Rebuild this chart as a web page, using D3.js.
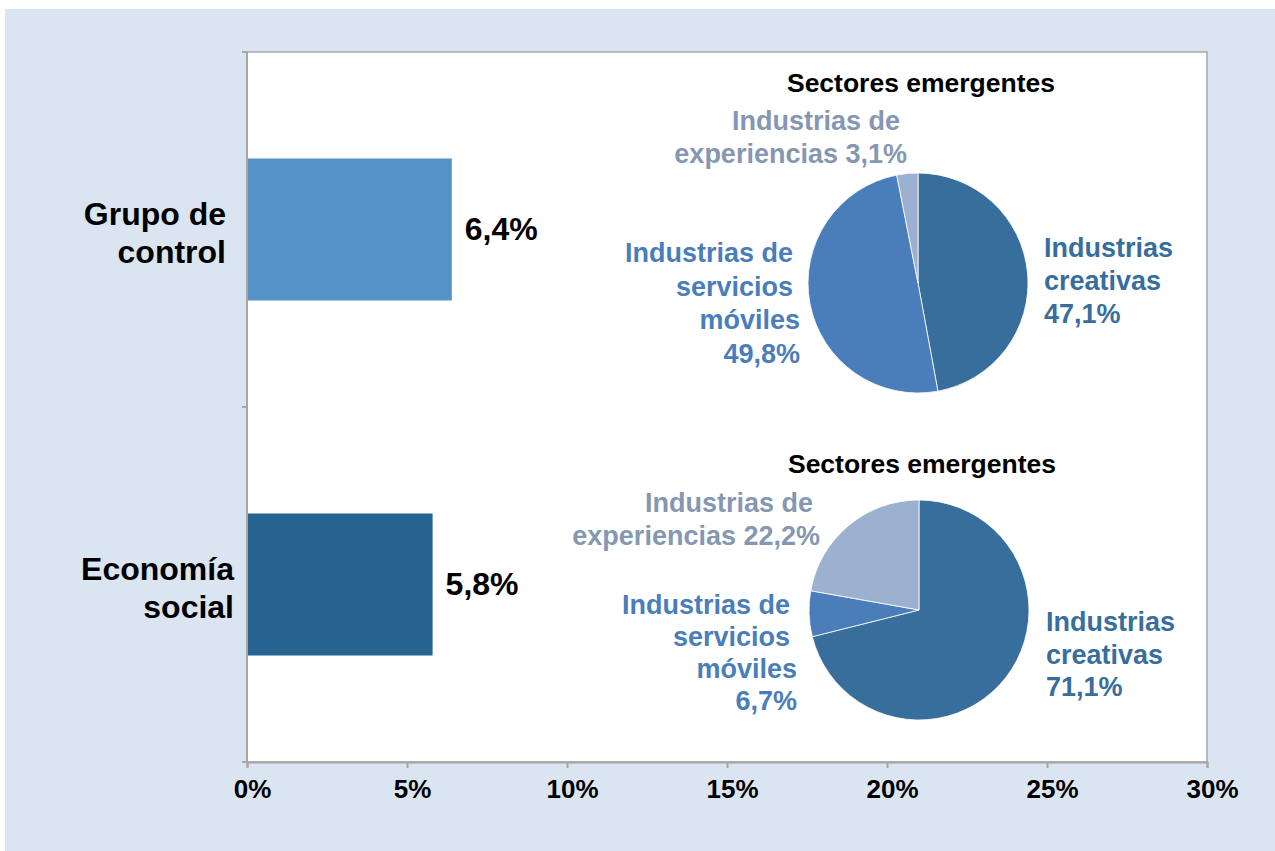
<!DOCTYPE html>
<html>
<head>
<meta charset="utf-8">
<script src="https://cdn.jsdelivr.net/npm/d3@7"></script>
<style>
  body { margin: 0; background: #ffffff; }
  text { font-family: "Liberation Sans", Arial, sans-serif; font-weight: bold; }
</style>
</head>
<body>
<svg id="chart" width="1275" height="851"></svg>
<script>

var categories = ['Grupo de control', 'Economía social'];
var categoryLines = [['Grupo de', 'control'], ['Economía', 'social']];
var barValues = [6.4, 5.8];
var barLabels = ['6,4%', '5,8%'];
var barColors = ['#5592c5', '#276391'];

var xTicks = [0, 5, 10, 15, 20, 25, 30];

var sectors = ['Industrias creativas', 'Industrias de servicios móviles', 'Industrias de experiencias'];
var pieControl = [47.1, 49.8, 3.1];
var pieSocial = [71.1, 6.7, 22.2];
var pieTitle = 'Sectores emergentes';
var sliceColors = ['#386e9c', '#4a7ebb', '#9cb1d0'];
var labelColors = ['#386e9c', '#4a7ebb', '#8597b1'];

var svg = d3.select('#chart');

svg.append('rect')
    .attr('x', 5).attr('y', 9)
    .attr('width', 1270).attr('height', 842)
    .attr('fill', '#dbe5f1');

var margin = { left: 247, right: 1207, top: 52, bottom: 762 };

var x = d3.scaleLinear()
    .domain([0, 30])
    .range([margin.left, margin.right]);

var y = d3.scaleBand()
    .domain(categories)
    .range([margin.top, margin.bottom])
    .paddingInner(0.6)
    .paddingOuter(0.3);

// plot area
svg.append('rect')
    .attr('x', margin.left).attr('y', margin.top)
    .attr('width', margin.right - margin.left)
    .attr('height', margin.bottom - margin.top)
    .attr('fill', '#ffffff')
    .attr('stroke', '#a6a6a6')
    .attr('stroke-width', 1.5);

// bars
svg.selectAll('.bar')
    .data(categories)
    .enter()
    .append('rect')
    .attr('class', 'bar')
    .attr('x', x(0))
    .attr('y', function(d) { return y(d); })
    .attr('width', function(d, i) { return x(barValues[i]) - x(0); })
    .attr('height', y.bandwidth())
    .attr('fill', function(d, i) { return barColors[i]; });

svg.selectAll('.barlabel')
    .data(categories)
    .enter()
    .append('text')
    .attr('class', 'barlabel')
    .attr('x', function(d, i) { return x(barValues[i]) + 13; })
    .attr('y', function(d) { return y(d) + y.bandwidth() / 2; })
    .attr('dy', '0.33em')
    .attr('font-size', 32)
    .attr('fill', '#000')
    .text(function(d, i) { return barLabels[i]; });

// x axis
var xAxis = d3.axisBottom(x)
    .tickValues(xTicks)
    .tickSize(6)
    .tickFormat(function(d) { return d + '%'; });

var gx = svg.append('g')
    .attr('transform', 'translate(0,' + margin.bottom + ')')
    .call(xAxis);

gx.select('.domain').attr('stroke', '#a6a6a6').attr('stroke-width', 2);
gx.selectAll('.tick line').attr('stroke', '#a6a6a6').attr('stroke-width', 2);
gx.selectAll('.tick text')
    .attr('y', 36)
    .attr('dy', 0)
    .attr('dx', 5)
    .attr('font-size', 26)
    .attr('font-family', '"Liberation Sans", Arial, sans-serif')
    .attr('fill', '#000');

// y axis line and ticks at category boundaries
var yEdges = [margin.top, (margin.top + margin.bottom) / 2, margin.bottom];

svg.append('line')
    .attr('x1', margin.left).attr('x2', margin.left)
    .attr('y1', margin.top).attr('y2', margin.bottom)
    .attr('stroke', '#a6a6a6')
    .attr('stroke-width', 2);

svg.selectAll('.ytick')
    .data(yEdges)
    .enter()
    .append('line')
    .attr('x1', margin.left - 5).attr('x2', margin.left)
    .attr('y1', function(d) { return d; })
    .attr('y2', function(d) { return d; })
    .attr('stroke', '#a6a6a6')
    .attr('stroke-width', 2);

// category labels
var catLabelX = [226, 234];

categories.forEach(function(c, i) {

    var t = svg.append('text')
        .attr('text-anchor', 'end')
        .attr('font-size', 32)
        .attr('fill', '#000')
        .attr('y', y(c) + y.bandwidth() / 2 - 5);

    categoryLines[i].forEach(function(line, j) {
        t.append('tspan')
            .attr('x', catLabelX[i])
            .attr('dy', j === 0 ? 0 : 38)
            .text(line);
    });
});

// pies
var pie = d3.pie()
    .sort(null)
    .value(function(d) { return d; });

var arc = d3.arc()
    .innerRadius(0)
    .outerRadius(110);

var fmt = function(v) { return String(v.toFixed(1)).replace('.', ',') + '%'; };

function drawPie(values, cx, cy, titleY, labels) {

    var g = svg.append('g')
        .attr('transform', 'translate(' + cx + ',' + cy + ')');

    g.selectAll('path')
        .data(pie(values))
        .enter()
        .append('path')
        .attr('d', arc)
        .attr('fill', function(d, i) { return sliceColors[i]; })
        .attr('stroke', '#ffffff')
        .attr('stroke-width', 0.8);

    g.append('text')
        .attr('x', 3)
        .attr('y', titleY)
        .attr('text-anchor', 'middle')
        .attr('font-size', 26.5)
        .attr('fill', '#000')
        .text(pieTitle);

    labels.forEach(function(lab) {

        var t = g.append('text')
            .attr('text-anchor', lab.anchor)
            .attr('font-size', 27)
            .attr('fill', labelColors[lab.idx])
            .attr('y', lab.y);

        lab.lines.forEach(function(line, j) {
            t.append('tspan')
                .attr('x', lab.x[j])
                .attr('dy', j === 0 ? 0 : lab.step)
                .text(line);
        });
    });
}

drawPie(pieControl, 918, 283, -191, [
    { idx: 0, anchor: 'start', x: [126, 126, 126], y: -26, step: 33,
      lines: ['Industrias', 'creativas', fmt(pieControl[0])] },
    { idx: 1, anchor: 'end', x: [-125, -125, -118, -118], y: -21, step: 33.7,
      lines: ['Industrias de', 'servicios', 'móviles', fmt(pieControl[1])] },
    { idx: 2, anchor: 'end', x: [-18, -11], y: -153, step: 33,
      lines: ['Industrias de', 'experiencias ' + fmt(pieControl[2])] }
]);

drawPie(pieSocial, 919, 610, -137, [
    { idx: 0, anchor: 'start', x: [127, 127, 127], y: 21, step: 32.5,
      lines: ['Industrias', 'creativas', fmt(pieSocial[0])] },
    { idx: 1, anchor: 'end', x: [-129, -129, -122, -122], y: 4, step: 32,
      lines: ['Industrias de', 'servicios', 'móviles', fmt(pieSocial[1])] },
    { idx: 2, anchor: 'end', x: [-106, -99], y: -98, step: 33,
      lines: ['Industrias de', 'experiencias ' + fmt(pieSocial[2])] }
]);

</script>
</body>
</html>
